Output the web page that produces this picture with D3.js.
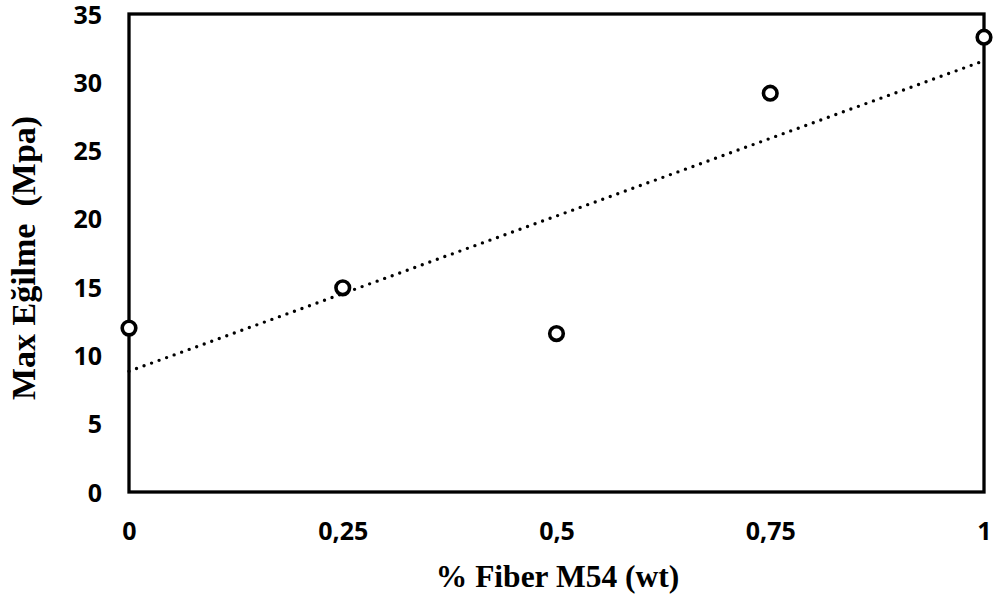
<!DOCTYPE html>
<html><head><meta charset="utf-8">
<script src="https://cdn.jsdelivr.net/npm/d3@7"></script>
<style>body{margin:0;background:#fff}svg{display:block}</style>
</head><body><svg id="c" width="996" height="596"></svg>
<script>
const xValues = [0, 0.25, 0.5, 0.75, 1];
const yValues = [12.0, 14.95, 11.6, 29.2, 33.3];
const xTicks = [0, 0.25, 0.5, 0.75, 1];
const xTickLabels = ["0", "0,25", "0,5", "0,75", "1"];
const yTicks = [0, 5, 10, 15, 20, 25, 30, 35];
const xTitle = "% Fiber M54 (wt)";
const yTitle = "Max Eğilme  (Mpa)";

const svg = d3.select("#c");
const L = 129, R = 984, T = 14, B = 492;
const x = d3.scaleLinear().domain([0, 1]).range([L, R]);
const y = d3.scaleLinear().domain([0, 35]).range([B, T]);

// linear trendline
const n = xValues.length;
const mx = d3.mean(xValues), my = d3.mean(yValues);
let sxy = 0, sxx = 0;
for (let i = 0; i < n; i++) { sxy += (xValues[i]-mx)*(yValues[i]-my); sxx += (xValues[i]-mx)**2; }
const slope = sxy / sxx, icpt = my - slope * mx;

const tickFont = "'Open Sans', 'Liberation Sans', sans-serif";
const titleFont = "'Liberation Serif', 'Times New Roman', serif";

const yAxis = d3.axisLeft(y).tickValues(yTicks).tickSize(0).tickPadding(27);
const gy = svg.append("g").attr("transform", `translate(${L},0)`).call(yAxis);
gy.select(".domain").remove();
gy.selectAll("text").attr("font-family", tickFont).attr("font-weight", "bold").attr("font-size", 25).attr("fill", "#000").attr("dy", "0.36em");

const xAxis = d3.axisBottom(x).tickValues(xTicks).tickFormat((d, i) => xTickLabels[i]).tickSize(0).tickPadding(0);
const gx = svg.append("g").attr("transform", `translate(0,${B})`).call(xAxis);
gx.select(".domain").remove();
gx.selectAll("text").attr("font-family", tickFont).attr("font-weight", "bold").attr("font-size", 25).attr("fill", "#000").attr("y", 38.5).attr("dy", "0.36em");

// trendline
svg.append("line")
  .attr("x1", x(0)).attr("y1", y(icpt))
  .attr("x2", x(1)).attr("y2", y(icpt + slope))
  .attr("stroke", "#000").attr("stroke-width", 3.4)
  .attr("stroke-linecap", "round").attr("stroke-dasharray", "0 8");

// frame
svg.append("rect").attr("x", L).attr("y", T).attr("width", R - L).attr("height", B - T)
  .attr("fill", "none").attr("stroke", "#000").attr("stroke-width", 3.3);

// points
svg.selectAll("circle.pt").data(xValues).enter().append("circle")
  .attr("class", "pt")
  .attr("cx", d => x(d)).attr("cy", (d, i) => y(yValues[i]))
  .attr("r", 6.8).attr("fill", "#fff").attr("stroke", "#000").attr("stroke-width", 3.6);

// titles
svg.append("text").attr("x", 557.5).attr("y", 587).attr("text-anchor", "middle")
  .attr("font-family", titleFont).attr("font-weight", "bold")
  .attr("font-size", 31.5).text(xTitle);
svg.append("text").attr("transform", "translate(35,258) rotate(-90)").attr("text-anchor", "middle")
  .attr("font-family", titleFont).attr("font-weight", "bold")
  .attr("font-size", 34).style("white-space", "pre").text(yTitle);
</script></body></html>
